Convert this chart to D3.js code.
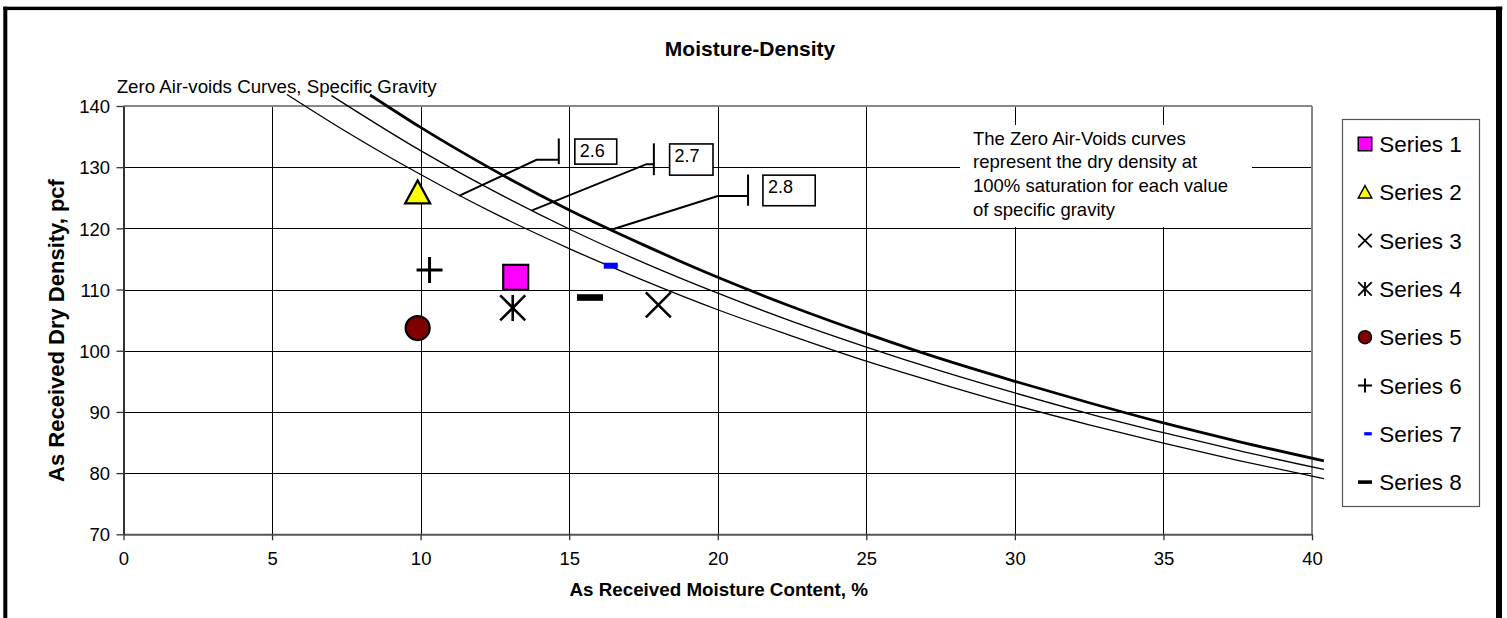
<!DOCTYPE html>
<html><head><meta charset="utf-8">
<script src="https://cdn.jsdelivr.net/npm/d3@7"></script>
<style>
html,body{margin:0;padding:0;background:#fff}
svg{display:block}
text{font-family:"Liberation Sans",Arial,Helvetica,sans-serif;fill:#000}
</style>
</head><body><svg id="chart" width="1507" height="618"></svg>
<script>
// ---------------- data ----------------
const xTicks = [0, 5, 10, 15, 20, 25, 30, 35, 40];
const yTicks = [70, 80, 90, 100, 110, 120, 130, 140];

// zero air-void curves
const moisture26 = [5.5, 7.5, 10, 12.5, 15, 17.5, 20, 22.5, 25, 27.5, 30, 32.5, 35, 37.5, 40.4];
const density26  = [141.9, 135.8, 128.8, 122.4, 116.7, 111.5, 106.7, 102.4, 98.3, 94.6, 91.1, 87.9, 84.9, 82.1, 79.1];
const moisture27 = [7, 10, 12.5, 15, 17.5, 20, 22.5, 25, 27.5, 30, 32.5, 35, 37.5, 40.4];
const density27  = [141.7, 132.7, 126.0, 119.9, 114.4, 109.4, 104.8, 100.6, 96.7, 93.1, 89.7, 86.6, 83.7, 80.6];
const moisture28 = [8.3, 10, 12.5, 15, 17.5, 20, 22.5, 25, 27.5, 30, 32.5, 35, 37.5, 40.4];
const density28  = [141.8, 136.5, 129.4, 123.0, 117.3, 112.0, 107.2, 102.8, 98.7, 95.0, 91.5, 88.2, 85.2, 82.0];
const curveLabels = ["2.6", "2.7", "2.8"];

// measured points
const seriesNames    = ["Series 1", "Series 2", "Series 3", "Series 4", "Series 5", "Series 6", "Series 7", "Series 8"];
const seriesMoisture = [13.2, 9.9, 18.0, 13.1, 9.9, 10.3, 16.4, 15.7];
const seriesDensity  = [112.0, 125.8, 107.5, 107.0, 103.7, 113.2, 113.9, 108.7];

// ---------------- styles ----------------
const seriesShape = ["square", "triangle", "x", "asterisk", "circle", "plus", "dashSmall", "dash"];
const seriesFill  = ["#FF00FF", "#FFFF00", "none", "none", "#800000", "none", "#0000FF", "#000000"];

// callout geometry (in data units)
const callouts = [
  {anchor: [11.29, 125.3], elbow: [13.90, 131.2], tickX: 14.65, tickY: [134.7, 130.5], box: [15.19, 134.6, 16.6, 130.5]},
  {anchor: [13.73, 122.9], elbow: [17.60, 130.5], tickX: 17.85, tickY: [133.9, 128.7], box: [18.38, 133.8, 19.84, 128.7]},
  {anchor: [16.47, 119.85], elbow: [20.0, 125.3], tickX: 21.02, tickY: [128.8, 123.7], box: [21.52, 128.7, 23.28, 123.7]}
];

const svg = d3.select("#chart");
const L = 123.5, R = 1312, T = 106, B = 534.3;
const x = d3.scaleLinear().domain([0, 40]).range([L, R]);
const y = d3.scaleLinear().domain([70, 140]).range([B, T]);

// frame
svg.append("rect").attr("x", 3.3).attr("y", 6.7).attr("width", 1499).attr("height", 3.4).attr("fill", "#000");
svg.append("rect").attr("x", 3.3).attr("y", 6.7).attr("width", 4).attr("height", 620).attr("fill", "#000");
svg.append("rect").attr("x", 1496).attr("y", 6.7).attr("width", 6).attr("height", 620).attr("fill", "#000");

// gridlines
const grid = svg.append("g");
grid.selectAll(".h").data(yTicks.filter(d => d > 70 && d < 140)).enter().append("line")
  .attr("x1", L).attr("x2", R).attr("y1", d => Math.round(y(d)) + 0.5).attr("y2", d => Math.round(y(d)) + 0.5)
  .attr("stroke", "#000").attr("stroke-width", 1);
grid.selectAll(".v").data(xTicks.filter(d => d > 0 && d < 40)).enter().append("line")
  .attr("y1", T).attr("y2", B).attr("x1", d => Math.round(x(d)) + 0.5).attr("x2", d => Math.round(x(d)) + 0.5)
  .attr("stroke", "#000").attr("stroke-width", 1);

// plot border (top / right gray)
svg.append("line").attr("x1", L).attr("x2", R).attr("y1", T).attr("y2", T).attr("stroke", "#888").attr("stroke-width", 2);
svg.append("line").attr("x1", R).attr("x2", R).attr("y1", T).attr("y2", B).attr("stroke", "#888").attr("stroke-width", 2);

// axes
const xAxis = svg.append("g").attr("transform", `translate(0,${B})`)
  .call(d3.axisBottom(x).tickValues(xTicks).tickSize(6).tickSizeOuter(0).tickFormat(d3.format("d")));
xAxis.select(".domain").attr("stroke", "#555").attr("stroke-width", 2);
xAxis.selectAll(".tick line").attr("stroke", "#333").attr("stroke-width", 1.3);
xAxis.selectAll(".tick text").attr("y", 14).attr("dy", "0.9em").style("font-size", "18.5px").style("font-family", "'Liberation Sans',Arial,sans-serif");

const yAxis = svg.append("g").attr("transform", `translate(${L},0)`)
  .call(d3.axisLeft(y).tickValues(yTicks).tickSize(7).tickSizeOuter(0).tickFormat(d3.format("d")));
yAxis.select(".domain").attr("stroke", "#333").attr("stroke-width", 2);
yAxis.selectAll(".tick line").attr("stroke", "#333").attr("stroke-width", 1.3);
yAxis.selectAll(".tick text").attr("x", -13.5).attr("dy", "0.36em").style("font-size", "18.5px").style("font-family", "'Liberation Sans',Arial,sans-serif");

// curves
const lineGen = d3.line().x(d => x(d[0])).y(d => y(d[1])).curve(d3.curveMonotoneX);
const curves = [
  {m: moisture26, d: density26, w: 1.3},
  {m: moisture27, d: density27, w: 1.3},
  {m: moisture28, d: density28, w: 2.8}
];
curves.forEach(c => {
  svg.append("path").datum(c.m.map((m, i) => [m, c.d[i]]))
    .attr("d", lineGen).attr("fill", "none").attr("stroke", "#000").attr("stroke-width", c.w);
});

// callouts
callouts.forEach((c, i) => {
  svg.append("polyline")
    .attr("points", [[x(c.anchor[0]), y(c.anchor[1])], [x(c.elbow[0]), y(c.elbow[1])], [x(c.tickX), y(c.elbow[1])]].map(p => p.join(",")).join(" "))
    .attr("fill", "none").attr("stroke", "#000").attr("stroke-width", 2);
  svg.append("line").attr("x1", x(c.tickX)).attr("x2", x(c.tickX)).attr("y1", y(c.tickY[0])).attr("y2", y(c.tickY[1]))
    .attr("stroke", "#000").attr("stroke-width", 2);
  const bx = x(c.box[0]), by = y(c.box[1]), bw = x(c.box[2]) - x(c.box[0]), bh = y(c.box[3]) - y(c.box[1]);
  svg.append("rect").attr("x", bx).attr("y", by).attr("width", bw).attr("height", bh)
    .attr("fill", "#fff").attr("stroke", "#000").attr("stroke-width", 1.6);
  svg.append("text").attr("x", bx + 5).attr("y", by + 18.3).style("font-size", "18px").text(curveLabels[i]);
});

// explanation box
const noteLines = ["The Zero Air-Voids curves", "represent the dry density at", "100% saturation for each value", "of specific gravity"];
svg.append("rect").attr("x", 960).attr("y", 125).attr("width", 292).attr("height", 102).attr("fill", "#fff");
svg.append("g").selectAll("text").data(noteLines).enter().append("text")
  .attr("x", 973).attr("y", (d, i) => 144.5 + i * 23.8).style("font-size", "18.5px").text(d => d);

// curve label
svg.append("text").attr("x", 116.7).attr("y", 92.5).style("font-size", "18.7px").text("Zero Air-voids Curves, Specific Gravity");

// markers
function marker(g, shape, fill, s) {
  switch (shape) {
    case "square":
      g.append("rect").attr("x", -12.5 * s).attr("y", -12.5 * s).attr("width", 25 * s).attr("height", 25 * s)
        .attr("fill", fill).attr("stroke", "#000").attr("stroke-width", s > 0.7 ? 2.2 : 1.5); break;
    case "triangle":
      g.append("path").attr("d", `M0,${-12.5 * s}L${12.5 * s},${10.5 * s}L${-12.5 * s},${10.5 * s}Z`)
        .attr("fill", fill).attr("stroke", "#000").attr("stroke-width", s > 0.7 ? 2.2 : 1.5).attr("stroke-linejoin", "miter"); break;
    case "x":
      g.append("path").attr("d", `M${-12.5 * s},${-12.5 * s}L${12.5 * s},${12.5 * s}M${12.5 * s},${-12.5 * s}L${-12.5 * s},${12.5 * s}`)
        .attr("stroke", "#000").attr("stroke-width", s > 0.7 ? 2.6 : 1.8); break;
    case "asterisk":
      g.append("path").attr("d", `M${-12.5 * s},${-12.5 * s}L${12.5 * s},${12.5 * s}M${12.5 * s},${-12.5 * s}L${-12.5 * s},${12.5 * s}M0,${-13 * s}L0,${13 * s}`)
        .attr("stroke", "#000").attr("stroke-width", s > 0.7 ? 2.6 : 1.8); break;
    case "circle":
      g.append("circle").attr("r", 12 * s).attr("fill", fill).attr("stroke", "#000").attr("stroke-width", s > 0.7 ? 2.2 : 1.5); break;
    case "plus":
      g.append("path").attr("d", `M${-13 * s},0L${13 * s},0M0,${-13 * s}L0,${13 * s}`)
        .attr("stroke", "#000").attr("stroke-width", s > 0.7 ? 3 : 2); break;
    case "dashSmall":
      g.append("rect").attr("x", -7 * s).attr("y", -3 * s).attr("width", 14 * s).attr("height", 6 * s).attr("fill", fill); break;
    case "dash":
      g.append("rect").attr("x", -13 * s).attr("y", -3.3 * s).attr("width", 26 * s).attr("height", 6.6 * s).attr("fill", fill); break;
  }
}
seriesNames.forEach((n, i) => {
  const g = svg.append("g").attr("transform", `translate(${x(seriesMoisture[i])},${y(seriesDensity[i])})`);
  marker(g, seriesShape[i], seriesFill[i], 1);
});

// titles
svg.append("text").attr("x", 750).attr("y", 56).attr("text-anchor", "middle")
  .style("font-size", "21px").style("font-weight", "bold").text("Moisture-Density");
svg.append("text").attr("x", 718.7).attr("y", 596).attr("text-anchor", "middle")
  .style("font-size", "18.8px").style("font-weight", "bold").text("As Received Moisture Content, %");
svg.append("text").attr("transform", "translate(64,330.5) rotate(-90)").attr("text-anchor", "middle")
  .style("font-size", "22px").style("font-weight", "bold").text("As Received Dry Density, pcf");

// legend
const lg = svg.append("g");
lg.append("rect").attr("x", 1342.5).attr("y", 119.5).attr("width", 137).attr("height", 387)
  .attr("fill", "#fff").attr("stroke", "#555").attr("stroke-width", 1.2);
seriesNames.forEach((n, i) => {
  const cy = 144 + i * 48.3;
  const g = lg.append("g").attr("transform", `translate(${seriesShape[i] === "dashSmall" ? 1368 : 1365},${cy})`);
  marker(g, seriesShape[i], seriesFill[i], 0.54);
  lg.append("text").attr("x", 1379.3).attr("y", cy + 8).style("font-size", "22.5px").text(n);
});
</script></body></html>
